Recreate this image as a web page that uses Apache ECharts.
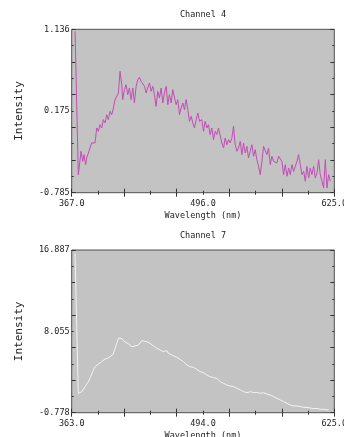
<!DOCTYPE html>
<html>
<head>
<meta charset="utf-8">
<script src="https://cdn.jsdelivr.net/npm/echarts@6/dist/echarts.min.js"></script>
<style>
html,body{margin:0;padding:0;background:#fff;}
#c{width:344px;height:437px;}
</style>
</head>
<body>
<div id="c"></div>
<script>
// ---- Channel 4 ----
const ch4Title = 'Channel 4';
const ch4XRange = [367, 625];
const ch4YRange = [-0.785, 1.136];
const ch4XTickLabels = ['367.0', '496.0', '625.0'];
const ch4YTickLabels = ['-0.785', '0.175', '1.136'];
const ch4X = [370.3, 373.5, 374.5, 376.2, 377.8, 379.1, 380.7, 381.7, 383.4, 385.0, 386.6, 388.3, 389.9, 391.6, 393.2, 394.8, 396.5, 398.1, 399.8, 401.4, 403.0, 404.7, 406.3, 408.0, 409.6, 411.2, 412.9, 414.5, 416.2, 417.1, 418.8, 420.4, 422.1, 423.7, 425.3, 427.0, 428.6, 430.3, 431.9, 433.5, 435.2, 436.8, 438.5, 440.1, 441.7, 443.4, 445.0, 446.7, 448.3, 449.9, 451.6, 453.2, 454.9, 456.5, 458.1, 459.8, 461.4, 463.0, 464.7, 466.3, 468.0, 469.6, 471.2, 472.9, 474.5, 476.2, 477.8, 479.4, 481.1, 482.7, 484.4, 486.0, 487.6, 489.3, 490.9, 492.6,
  494.8, 496.5, 498.1, 499.8, 501.4, 503.0, 504.7, 506.3, 508.0, 509.6, 511.2, 512.9, 514.5, 516.2, 517.8, 519.4, 521.1, 522.7, 524.4, 526.0, 527.6, 529.3, 530.9, 532.6, 534.2, 535.8, 537.5, 539.1, 540.7, 542.4, 544.0, 545.7, 547.3, 548.9, 550.6, 552.2, 553.9, 555.5, 557.1, 558.8, 560.4, 562.1, 563.7, 565.3, 567.0, 568.6, 570.3, 571.9, 573.5, 575.2, 576.8, 578.5, 580.1, 581.7, 583.4, 585.0, 586.7, 588.3, 589.9, 591.6, 593.2, 594.9, 596.5, 598.1, 599.8, 601.4, 603.0, 604.7, 606.3, 608.0, 609.6, 611.2, 612.9, 614.5, 616.2, 617.8, 619.4, 621.1];
const ch4Y = [1.112, -0.573, -0.592, -0.298, -0.416, -0.338, -0.455, -0.377, -0.318, -0.259, -0.200, -0.181, -0.200, -0.024, -0.063, 0.015, -0.024, 0.074, 0.035, 0.132, 0.074, 0.172, 0.132, 0.211, 0.309, 0.289, 0.387, 0.642, 0.485, 0.309, 0.426, 0.485, 0.368, 0.446, 0.309, 0.446, 0.270, 0.466, 0.544, 0.571, 0.524, 0.505, 0.466, 0.387, 0.446, 0.505, 0.407, 0.466, 0.368, 0.230, 0.407, 0.328, 0.446, 0.270, 0.387, 0.466, 0.250, 0.368, 0.270, 0.426, 0.446, 0.250, 0.309, 0.132, 0.211, 0.270, 0.191, 0.309, 0.191, 0.054, 0.113, 0.035, -0.024, 0.074, 0.152, 0.054,
  0.074, -0.063, 0.054, -0.024, 0.015, -0.102, -0.024, -0.161, -0.063, -0.102, -0.024, -0.004, -0.200, -0.259, -0.142, -0.220, -0.161, -0.200, -0.142, -0.004, -0.220, -0.298, -0.259, -0.181, -0.338, -0.200, -0.318, -0.240, -0.377, -0.298, -0.220, -0.357, -0.279, -0.397, -0.475, -0.573, -0.416, -0.240, -0.220, -0.338, -0.259, -0.455, -0.357, -0.416, -0.397, -0.436, -0.357, -0.338, -0.416, -0.573, -0.455, -0.592, -0.494, -0.573, -0.455, -0.534, -0.475, -0.416, -0.338, -0.455, -0.573, -0.534, -0.651, -0.475, -0.612, -0.494, -0.573, -0.475, -0.612, -0.553, -0.397, -0.573, -0.651, -0.730, -0.397, -0.730, -0.573, -0.651];

// ---- Channel 7 ----
const ch7Title = 'Channel 7';
const ch7XRange = [363, 625];
const ch7YRange = [-0.778, 16.887];
const ch7XTickLabels = ['363.0', '494.0', '625.0'];
const ch7YTickLabels = ['-0.778', '8.055', '16.887'];
const ch7X = [366.3, 369.6, 370.6, 373.0, 376.3, 379.6, 381.9, 383.9, 386.3, 389.6, 392.9, 396.3, 398.6, 401.3, 403.9, 406.3, 407.9, 409.6, 411.3, 412.9, 414.6, 416.2, 419.6, 422.9, 424.6, 426.2, 427.9, 429.6, 431.2, 432.9, 433.9, 434.6, 437.9, 441.2, 444.6, 447.9, 451.2, 454.5, 457.9, 459.5, 461.2, 462.9, 464.5, 467.9, 471.2, 474.5, 477.9, 481.2, 484.5, 487.8, 491.2,
  494.5, 497.9, 501.2, 504.5, 507.9, 511.2, 514.5, 517.8, 521.2, 524.5, 527.8, 531.2, 534.5, 537.8, 541.2, 544.5, 547.8, 551.1, 554.5, 557.8, 561.1, 564.5, 567.8, 571.1, 574.5, 577.8, 581.1, 584.5, 587.8, 591.1, 594.5, 597.8, 601.1, 604.5, 607.8, 611.1, 614.4, 617.7, 619.4];
const ch7Y = [16.53, 1.33, 1.14, 1.50, 2.05, 2.59, 3.13, 3.68, 4.22, 4.51, 4.76, 5.05, 5.12, 5.31, 5.49, 6.21, 6.75, 7.30, 7.40, 7.30, 7.04, 6.83, 6.68, 6.39, 6.57, 6.46, 6.64, 6.57, 6.75, 7.04, 7.19, 6.83, 6.93, 6.75, 6.46, 6.21, 6.03, 5.85, 5.96, 5.67, 5.85, 5.49, 5.31, 5.23, 5.02, 4.76, 4.40, 4.22, 4.15, 3.93, 3.68,
  3.57, 3.31, 3.13, 3.03, 2.95, 2.59, 2.41, 2.23, 2.12, 2.05, 1.87, 1.69, 1.50, 1.40, 1.50, 1.40, 1.43, 1.32, 1.40, 1.25, 1.14, 0.96, 0.78, 0.60, 0.42, 0.24, 0.06, -0.05, -0.05, -0.12, -0.20, -0.20, -0.27, -0.34, -0.31, -0.41, -0.41, -0.49, -0.41];

const xName = 'Wavelength (nm)';
const yName = 'Intensity';

const FONT = 'DejaVu Sans Mono';
const TXT = '#222';
const TICK = '#333';

function panel(gi, title, xr, yr, xl, yl) {
  const hid = { show: false };
  const tickAxisCommon = {
    type: 'value', gridIndex: gi, min: 0, max: 10, interval: 2,
    axisLine: hid, splitLine: hid, axisLabel: hid,
    axisTick: { show: true, inside: true, length: 4, lineStyle: { color: TICK, width: 1 } },
    minorTick: { show: true, splitNumber: 2, length: 2, lineStyle: { color: TICK, width: 1 } },
    minorSplitLine: hid
  };
  const xAxes = [
    { type: 'value', gridIndex: gi, min: xr[0], max: xr[1], show: false },
    Object.assign({}, tickAxisCommon, { position: 'bottom' }),
    { type: 'value', gridIndex: gi, min: 0, max: 10, interval: 5, position: 'bottom',
      axisLine: hid, axisTick: hid, splitLine: hid,
      axisLabel: { show: true, margin: 7, fontFamily: FONT, fontSize: 8.5, color: TXT,
        formatter: v => xl[Math.round(v / 5)] },
      name: xName, nameLocation: 'middle', nameGap: 19,
      nameTextStyle: { fontFamily: FONT, fontSize: 8.5, color: TXT } },
    Object.assign({}, tickAxisCommon, { position: 'top',
      name: title, nameLocation: 'middle', nameGap: 10,
      nameTextStyle: { fontFamily: FONT, fontSize: 8.5, color: TXT } })
  ];
  const yAxes = [
    { type: 'value', gridIndex: gi, min: yr[0], max: yr[1], show: false },
    Object.assign({}, tickAxisCommon, { position: 'left' }),
    { type: 'value', gridIndex: gi, min: 0, max: 10, interval: 5, position: 'left',
      axisLine: hid, axisTick: hid, splitLine: hid,
      axisLabel: { show: true, margin: 2, fontFamily: FONT, fontSize: 8.5, color: TXT,
        formatter: v => yl[Math.round(v / 5)] },
      name: yName, nameLocation: 'middle', nameGap: 47,
      nameTextStyle: { fontFamily: FONT, fontSize: 11, color: TXT } },
    Object.assign({}, tickAxisCommon, { position: 'right' })
  ];
  return { xAxes, yAxes };
}

const p0 = panel(0, ch4Title, ch4XRange, ch4YRange, ch4XTickLabels, ch4YTickLabels);
const p1 = panel(1, ch7Title, ch7XRange, ch7YRange, ch7XTickLabels, ch7YTickLabels);

const gridStyle = { show: true, backgroundColor: '#c3c3c3', borderColor: '#505050', borderWidth: 1, containLabel: false, outerBoundsMode: 'none' };

const option = {
  animation: false,
  backgroundColor: '#ffffff',
  grid: [
    Object.assign({ left: 71.7, top: 29.3, width: 262.6, height: 163.4 }, gridStyle),
    Object.assign({ left: 71.7, top: 250, width: 262.6, height: 162.7 }, gridStyle)
  ],
  xAxis: p0.xAxes.concat(p1.xAxes),
  yAxis: p0.yAxes.concat(p1.yAxes),
  series: [
    { type: 'line', xAxisIndex: 0, yAxisIndex: 0, showSymbol: false, symbol: 'none',
      data: ch4X.map((x, i) => [x, ch4Y[i]]),
      lineStyle: { color: '#c24db6', width: 1 }, itemStyle: { color: '#c24db6' } },
    { type: 'line', xAxisIndex: 4, yAxisIndex: 4, showSymbol: false, symbol: 'none',
      data: ch7X.map((x, i) => [x, ch7Y[i]]),
      lineStyle: { color: '#f4f4f4', width: 1 }, itemStyle: { color: '#f4f4f4' } }
  ]
};

const chart = echarts.init(document.getElementById('c'), null, { renderer: 'canvas' });
chart.setOption(option);
</script>
</body>
</html>
